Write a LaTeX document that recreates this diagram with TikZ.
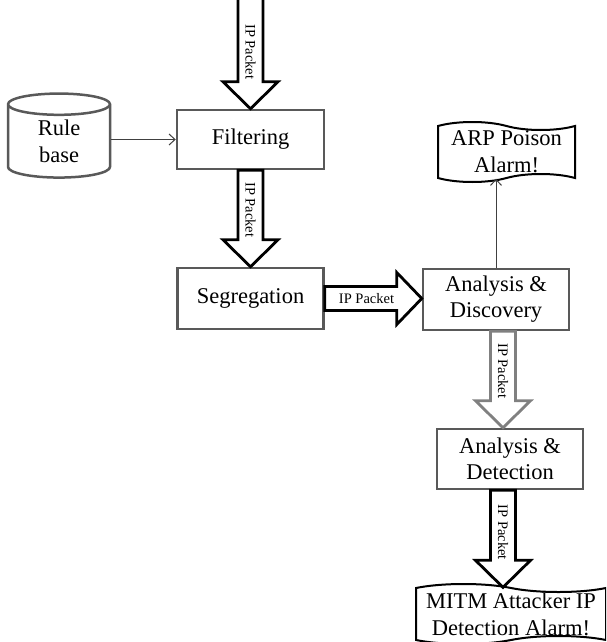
\documentclass[tikz,border=0pt]{standalone}
\usepackage{fontspec}
\setmainfont{Liberation Serif}
\usetikzlibrary{calc,arrows.meta,shapes.geometric,shapes.symbols}
\definecolor{boxgray}{RGB}{89,89,89}
\definecolor{arrowgray}{RGB}{128,128,128}
\tikzset{box/.style={draw=boxgray,line width=2.5pt,fill=white,align=center,font=\fontsize{22.5}{26}\selectfont,inner sep=0pt}}
\tikzset{alarm/.style={tape,draw=black,line width=2pt,tape bend top=out and in,tape bend bottom=in and out,tape bend height=8pt,align=center,font=\fontsize{22.5}{27}\selectfont,inner sep=0pt}}
\tikzset{store/.style={cylinder,shape border rotate=90,aspect=0.5,draw=boxgray,line width=2.5pt,align=center,font=\fontsize{22.5}{27}\selectfont,inner sep=0pt}}
\tikzset{blockarrow/.style={line width=2.8pt,fill=white,line join=miter}}
\tikzset{arrowlabel/.style={font=\fontsize{14.5}{17}\selectfont,inner sep=0pt}}
\tikzset{thinarrow/.style={-{Straight Barb[length=6pt,width=11pt]},line width=1pt,draw=black!75}}

% #1 colour, #2 tail, #3 tip, #4 label position
\newcommand{\blockdown}[4][black]{%
  \draw[blockarrow,draw=#1] ($(#2)+(-12.5,0)$) -- ($(#3)+(-12.5,-27)$) -- ($(#3)+(-27.5,-27)$) -- (#3)
    -- ($(#3)+(27.5,-27)$) -- ($(#3)+(12.5,-27)$) -- ($(#2)+(12.5,0)$) -- cycle;
  \path (#2) -- ($(#3)+(0,-27)$) node[pos=#4,rotate=-90,arrowlabel] {IP Packet};
}
\newcommand{\blockright}[3]{%
  \draw[blockarrow] ($(#1)+(0,-12)$) -- ($(#2)+(-25,-12)$) -- ($(#2)+(-25,-26)$) -- (#2)
    -- ($(#2)+(-25,26)$) -- ($(#2)+(-25,12)$) -- ($(#1)+(0,12)$) -- cycle;
  \path (#1) -- ($(#2)+(-25,0)$) node[pos=#3,arrowlabel] {IP Packet};
}

\begin{document}
\begin{tikzpicture}[x=1pt,y=-1pt]
  \useasboundingbox (0,0) rectangle (606,642);
  \clip (0,0) rectangle (606,642);

  \node[box,minimum width=147pt,minimum height=59pt] (filtering) at (250.5,139.5) {Filtering};
  \node[box,minimum width=146pt,minimum height=61pt] (segregation) at (250.5,298.5) {Segregation};
  \node[box,minimum width=146pt,minimum height=61pt] (discovery) at (496,299.5) {Analysis \&\\Discovery};
  \node[box,minimum width=146pt,minimum height=60pt] (detection) at (510,459) {Analysis \&\\Detection};
  \node[store,minimum width=102pt,minimum height=84pt] (rulebase) at (59,141.5) {Rule\\base};
  \node[alarm,minimum width=137pt,minimum height=60pt] (arpalarm) at (506.5,152) {ARP Poison\\Alarm!};
  \node[alarm,minimum width=190pt,minimum height=60pt] (mitmalarm) at (511,614) {MITM Attacker IP\\Detection Alarm!};

  \coordinate (input) at ($(filtering.north)+(0,-115)$);
  \coordinate (mid) at ($(discovery.south)!.5!(detection.north)$);

  \draw[thinarrow] (rulebase.east |- filtering.west) -- (filtering.west);
  \draw[thinarrow] (discovery.north) -- (discovery.north |- arpalarm.south);

  \blockdown{input}{filtering.north}{0.66}
  \blockdown{filtering.south}{segregation.north}{0.57}
  \blockright{segregation.east}{discovery.west |- segregation.east}{0.58}
  \blockdown[arrowgray]{mid |- discovery.south}{mid |- detection.north}{0.57}
  \blockdown{mid |- detection.south}{mid |- mitmalarm.north}{0.6}
\end{tikzpicture}
\end{document}
